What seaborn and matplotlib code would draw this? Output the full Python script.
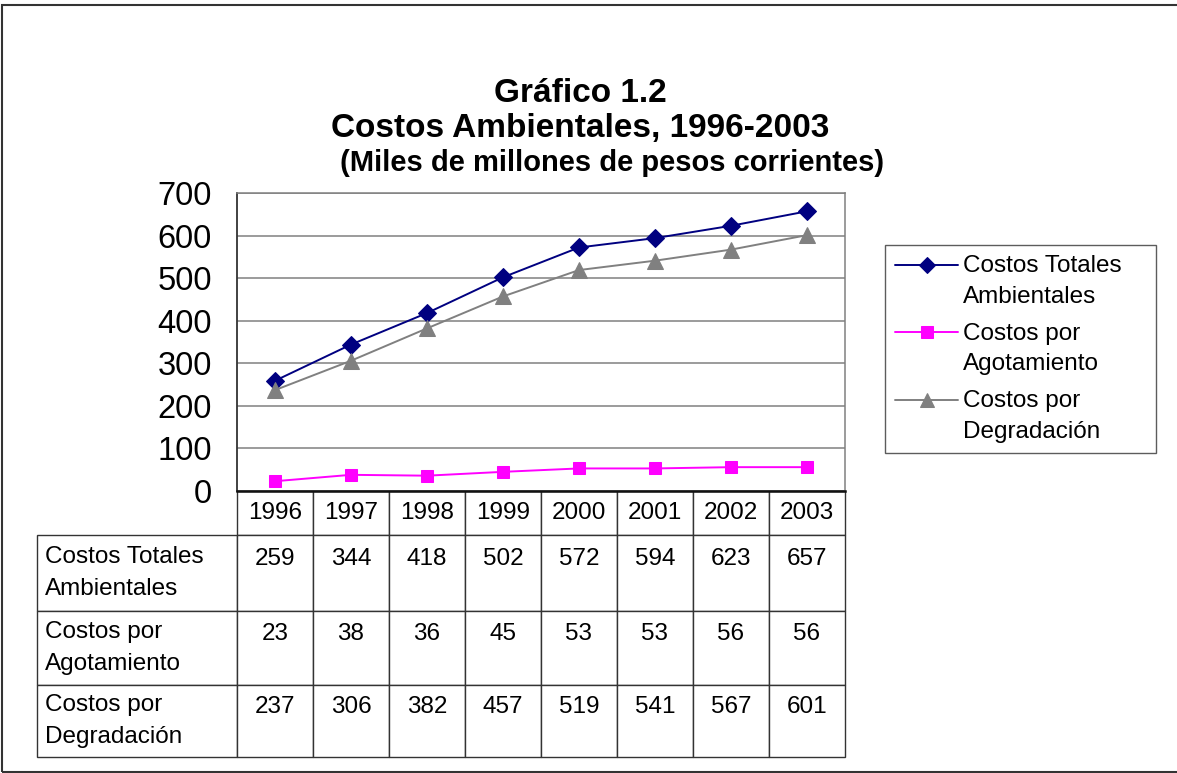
import matplotlib
matplotlib.use("Agg")
import matplotlib.pyplot as plt
import pandas as pd
import seaborn as sns
from matplotlib.patches import Rectangle

# datos del gráfico
years = ["1996", "1997", "1998", "1999", "2000", "2001", "2002", "2003"]
series_names = ["Costos Totales\nAmbientales", "Costos por\nAgotamiento", "Costos por\nDegradación"]
totales = [259, 344, 418, 502, 572, 594, 623, 657]
agotamiento = [23, 38, 36, 45, 53, 53, 56, 56]
degradacion = [237, 306, 382, 457, 519, 541, 567, 601]
yticks = [0, 100, 200, 300, 400, 500, 600, 700]

colors = ["#000080", "#FF00FF", "#808080"]
markers = ["D", "s", "^"]
msizes = [9, 9, 11]

sns.set_style("white")
plt.rcParams["font.family"] = ["Liberation Sans", "DejaVu Sans"]
plt.rcParams["text.color"] = "black"
plt.rcParams["ytick.color"] = "black"

W, H = 1177, 773
fig = plt.figure(figsize=(W / 100, H / 100), dpi=100)

# área del gráfico
x0, x1, ytop, ybot = 237, 845, 193, 491
ax = fig.add_axes([x0 / W, 1 - ybot / H, (x1 - x0) / W, (ybot - ytop) / H])

df = pd.DataFrame({"x": range(len(years)), "Totales": totales,
                   "Agotamiento": agotamiento, "Degradacion": degradacion})
cols = ["Totales", "Agotamiento", "Degradacion"]
for col, name, c, m, ms in zip(cols, series_names, colors, markers, msizes):
    sns.lineplot(data=df, x="x", y=col, ax=ax, color=c, marker=m, markersize=ms,
                 markeredgecolor=c, linewidth=1.4, label=name, legend=False)

ax.set_xlim(-0.5, len(years) - 0.5)
ax.set_ylim(0, 700)
ax.set_yticks(yticks)
ax.set_yticklabels([str(v) for v in yticks], fontsize=23.5, color="black")
ax.set_xticks([])
ax.set_xlabel("")
ax.set_ylabel("")
ax.grid(axis="y", color="#808080", linewidth=1.1)
ax.tick_params(axis="y", length=6, width=1, color="#555555", pad=12)
for s in ["top", "right"]:
    ax.spines[s].set_color("#808080")
    ax.spines[s].set_linewidth(1.1)
ax.spines["left"].set_color("#333333")
ax.spines["left"].set_linewidth(1.3)
ax.spines["bottom"].set_color("#111111")
ax.spines["bottom"].set_linewidth(1.8)

# tabla de datos
fs = 17.5
values = [totales, agotamiento, degradacion]
cell_text = [[""] + years] + [[n] + [str(v) + "\n" for v in vals] for n, vals in zip(series_names, values)]
tx0 = (37 - x0) / (x1 - x0)
tbot = -(757 - ybot) / (ybot - ytop)
tab = ax.table(cellText=cell_text, cellLoc="center",
               colWidths=[200] + [76] * len(years),
               bbox=[tx0, tbot, 1 - tx0, -tbot])
tab.auto_set_font_size(False)
tab.set_fontsize(fs)
row_h = [44, 76, 74, 72]
for (r, c), cell in tab.get_celld().items():
    cell.set_height(row_h[r])
    cell.set_edgecolor("#333333")
    cell.set_linewidth(1)
    txt = cell.get_text()
    txt.set_fontsize(fs)
    txt.set_color("black")
    txt.set_linespacing(1.3)
    if c == 0:
        txt.set_ha("left")
        txt.set_linespacing(1.6)
        cell.PAD = 0.04
        cell._loc = "left"
    if r == 0 and c == 0:
        cell.visible_edges = ""

# leyenda
leg = fig.legend(loc="upper left", bbox_to_anchor=(885 / W, 1 - 455 / H, 271 / W, 210 / H),
                 mode="expand",
                 fontsize=fs, frameon=True, fancybox=False, edgecolor="#333333",
                 handlelength=2.6, handletextpad=0.2, labelspacing=0.62,
                 borderpad=0.42, borderaxespad=0)
leg.get_frame().set_linewidth(1)
for t in leg.get_texts():
    t.set_linespacing(1.5)
    t.set_color("black")
# el símbolo va a la altura de la primera línea del texto
for h in leg.legend_handles:
    h.set_ydata([y + 12 for y in h.get_ydata()])
    h.set_markersize(h.get_markersize() * 0.9)

# títulos
tfs = 24
fig.text(580 / W, 1 - 93 / H, "Gráfico 1.2", ha="center", va="center",
         fontsize=tfs, fontweight="bold")
fig.text(580 / W, 1 - 128 / H, "Costos Ambientales, 1996-2003", ha="center", va="center",
         fontsize=tfs, fontweight="bold")
fig.text(612 / W, 1 - 163 / H, "(Miles de millones de pesos corrientes)", ha="center",
         va="center", fontsize=21, fontweight="bold")

# borde exterior
fig.patches.append(Rectangle((2 / W, 1 - 772 / H), 1.2, (772 - 5) / H,
                             transform=fig.transFigure, fill=False,
                             edgecolor="#333333", linewidth=1.5))

fig.savefig("out.png", dpi=100)
